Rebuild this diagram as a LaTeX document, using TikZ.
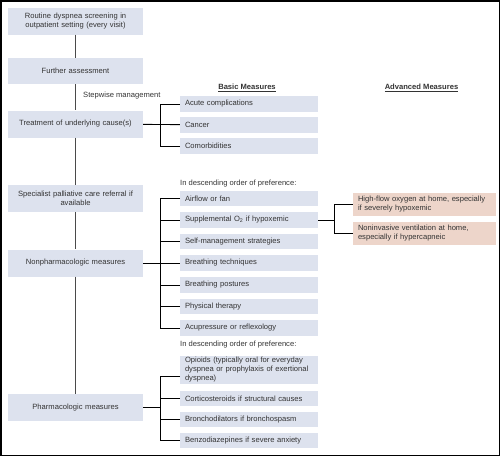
\documentclass[tikz,border=0pt]{standalone}
\usepackage{fontspec}
\setmainfont{Liberation Sans}
\definecolor{boxblue}{HTML}{DDE2EE}
\definecolor{boxpink}{HTML}{EDD5CA}
\definecolor{txtgray}{HTML}{333333}
\definecolor{spinegray}{HTML}{4A4A4A}
\begin{document}
\begin{tikzpicture}[x=1pt,y=1pt]
\tikzstyle{every node}+=[inner sep=0pt, text=txtgray, font=\fontsize{7.6}{9}\selectfont]
\tikzstyle{stagebox}=[fill=boxblue, minimum width=135pt, minimum height=27pt, text width=127pt, align=center]
\tikzstyle{basicbox}=[fill=boxblue, minimum width=138pt, minimum height=15.5pt, text width=128pt, inner xsep=5pt, inner ysep=1pt, align=left]
\tikzstyle{advbox}=[fill=boxpink, minimum height=23pt, text width=133pt, inner xsep=5pt, inner ysep=1pt, align=left]
\tikzstyle{spine}=[draw=spinegray, line width=1.2pt]
\tikzstyle{link}=[draw=black, line width=0.9pt]
\useasboundingbox (0,0) rectangle (500,-456);
\draw [black, line width=1.5pt] (0.75,-0.75) rectangle (499.25,-455.25);
\node [stagebox] (scr) at (75.5,-21) {Routine dyspnea screening in\\outpatient setting (every visit)};
\node [stagebox, minimum height=26pt] (fas) at (75.5,-71) {Further assessment};
\node [stagebox] (trt) at (75.5,-124) {Treatment of underlying cause(s)};
\node [stagebox] (spc) at (75.5,-198.5) {Specialist palliative care referral if\\available};
\node [stagebox] (npm) at (75.5,-263) {Nonpharmacologic measures};
\node [stagebox] (phm) at (75.5,-407.5) {Pharmacologic measures};
\node [anchor=west] (step) at (83,-96) {Stepwise management};
\draw [spine] (scr) -- (fas);
\draw [spine] (fas) -- (trt);
\draw [spine] (trt) -- (spc);
\draw [spine] (spc) -- (npm);
\draw [spine] (npm) -- (phm);
\node [font=\fontsize{7.6}{9}\selectfont\bfseries] (basic) at (247,-88) {\underline{Basic Measures}};
\node [font=\fontsize{7.6}{9}\selectfont\bfseries] (adv) at (421.5,-88) {\underline{Advanced Measures}};
\node [basicbox] (acu) at (249,-104) {Acute complications};
\node [basicbox] (cnc) at (249,-125) {Cancer};
\node [basicbox] (com) at (249,-146) {Comorbidities};
\draw [link] (trt) -- (cnc);
\draw [link] (acu.west) -- ++(-19,0) |- (com.west);
\node [anchor=west] (pref1) at (180,-184) {In descending order of preference:};
\node [basicbox] (air) at (249,-198.5) {Airflow or fan};
\node [basicbox] (sup) at (249,-220) {Supplemental O\textsubscript{2} if hypoxemic};
\node [basicbox] (slf) at (249,-241.5) {Self-management strategies};
\node [basicbox] (bth) at (249,-263) {Breathing techniques};
\node [basicbox] (bpo) at (249,-285) {Breathing postures};
\node [basicbox] (phy) at (249,-306.5) {Physical therapy};
\node [basicbox] (acp) at (249,-328) {Acupressure or reflexology};
\draw [link] (npm) -- (bth);
\draw [link] (air.west) -- ++(-19,0) |- (acp.west);
\draw [link] (sup.west) -- ++(-19,0);
\draw [link] (slf.west) -- ++(-19,0);
\draw [link] (bpo.west) -- ++(-19,0);
\draw [link] (phy.west) -- ++(-19,0);
\node [advbox] (hfo) at (424.5,-204.5) {High-flow oxygen at home, especially\\if severely hypoxemic};
\node [advbox] (niv) at (424.5,-233.5) {Noninvasive ventilation at home,\\especially if hypercapneic};
\draw [link] (sup.east) -- ++(17,0);
\draw [link] (hfo.west) -- ++(-18,0) |- (niv.west);
\node [anchor=west] (pref2) at (180,-345) {In descending order of preference:};
\node [basicbox, minimum height=28pt] (opi) at (249,-370) {Opioids (typically oral for everyday\\dyspnea or prophylaxis of exertional\\dyspnea)};
\node [basicbox] (cor) at (249,-398.5) {Corticosteroids if structural causes};
\node [basicbox] (brd) at (249,-419.5) {Bronchodilators if bronchospasm};
\node [basicbox] (bnz) at (249,-440.5) {Benzodiazepines if severe anxiety};
\draw [link] (phm.east) -- ++(18,0);
\draw [link] ([yshift=-6pt]opi.west) -- ++(-19,0) |- (bnz.west);
\draw [link] (cor.west) -- ++(-19,0);
\draw [link] (brd.west) -- ++(-19,0);
\end{tikzpicture}
\end{document}
